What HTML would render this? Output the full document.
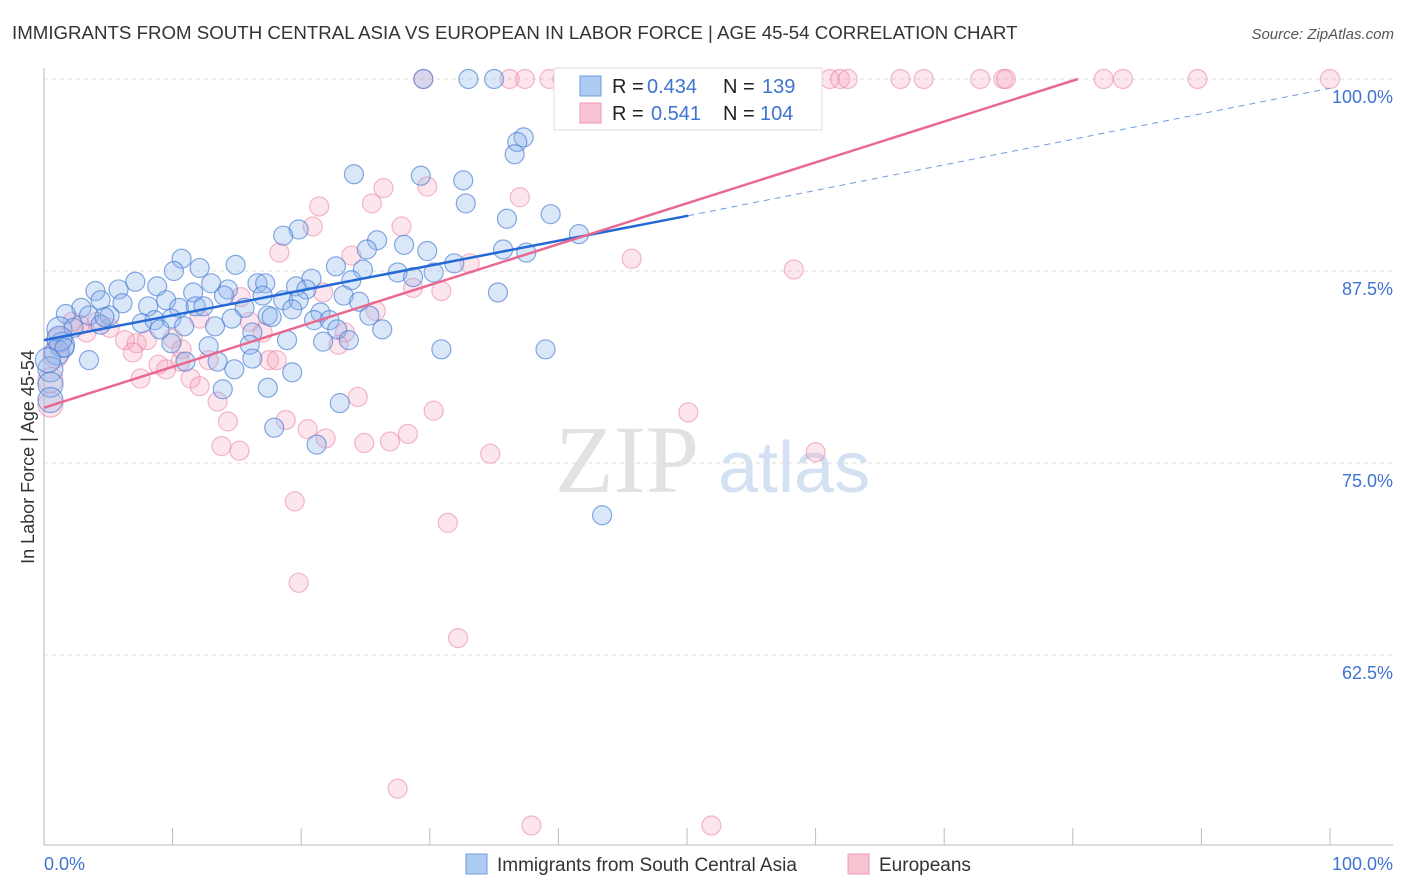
<!DOCTYPE html>
<html><head><meta charset="utf-8"><style>
body{margin:0;background:#fff;font-family:"Liberation Sans",sans-serif;}
svg{display:block}
</style></head><body>
<svg id="chart" width="1406" height="892" xmlns="http://www.w3.org/2000/svg">
<text x="12" y="39" font-size="18.7" fill="#333">IMMIGRANTS FROM SOUTH CENTRAL ASIA VS EUROPEAN IN LABOR FORCE | AGE 45-54 CORRELATION CHART</text>
<text x="1394" y="39" font-size="15" fill="#555" font-style="italic" text-anchor="end">Source: ZipAtlas.com</text>
<text x="34" y="457" font-size="18" fill="#333" text-anchor="middle" transform="rotate(-90 34 457)">In Labor Force | Age 45-54</text>
<text x="555" y="492" font-size="96" fill="#e2e2e2" font-family="Liberation Serif, serif">ZIP</text>
<text x="718" y="492" font-size="72" fill="#d3e1f3">atlas</text>
<g id="grid"></g><g id="axes"></g><g id="pts"></g><g id="lines"></g>
<g>
<rect x="554" y="68" width="268" height="62" fill="#fff" stroke="#ddd"/>
<rect x="580" y="76" width="21" height="20" fill="#aecbf2" stroke="#6f9be0"/>
<rect x="580" y="103" width="21" height="20" fill="#f8c4d3" stroke="#ee9ab2"/>
<text x="612" y="93" font-size="20" fill="#222">R = <tspan x="647" fill="#3f73d2">0.434</tspan><tspan x="723">N = </tspan><tspan x="762" fill="#3f73d2">139</tspan></text>
<text x="612" y="120" font-size="20" fill="#222">R = <tspan x="651" fill="#3f73d2">0.541</tspan><tspan x="723">N = </tspan><tspan x="760" fill="#3f73d2">104</tspan></text>
</g>
<g>
<rect x="466" y="854" width="21" height="20" fill="#aecbf2" stroke="#6f9be0"/>
<text x="497" y="871" font-size="19" fill="#333">Immigrants from South Central Asia</text>
<rect x="848" y="854" width="21" height="20" fill="#f8c4d3" stroke="#ee9ab2"/>
<text x="879" y="871" font-size="19" fill="#333">Europeans</text>
</g>
</svg>
<script>
const yTicks=[100,87.5,75,62.5];
const yTickLabels=["100.0%","87.5%","75.0%","62.5%"];
const xTicks=[0,10,20,30,40,50,60,70,80,90,100];
const blueX=[29.5,33.0,35.0,37.3,36.8,36.6,24.1,29.3,32.6,32.8,39.4,36.0,41.6,19.8,18.6,25.9,25.1,28.0,29.8,35.7,37.5,10.7,14.9,10.1,12.1,22.7,24.8,27.5,28.7,30.3,31.9,20.8,23.9,7.1,35.3,16.6,17.2,13.0,14.3,19.6,20.4,4.0,5.8,8.8,11.6,14.0,17.0,18.6,19.8,23.3,24.5,2.9,4.4,6.1,8.1,9.5,10.5,11.8,12.4,15.6,17.4,19.3,21.5,25.3,1.7,3.5,5.1,7.6,8.6,9.9,13.3,14.6,17.7,21.0,22.2,10.9,1.2,2.3,4.4,22.8,26.3,16.2,18.9,21.7,23.7,1.4,1.0,9.9,12.8,16.0,30.9,39.0,3.5,11.0,13.5,16.2,14.8,19.3,0.5,17.4,13.9,0.5,0.5,23.0,17.9,21.2,43.4,1.2,1.6,0.3,4.7,9.0];
const blueY=[100,100,100,96.2,95.9,95.1,93.8,93.7,93.4,91.9,91.2,90.9,89.9,90.2,89.8,89.5,88.9,89.2,88.8,88.9,88.7,88.3,87.9,87.5,87.7,87.8,87.6,87.4,87.1,87.4,88.0,87.0,86.9,86.8,86.1,86.7,86.7,86.7,86.3,86.5,86.3,86.2,86.3,86.5,86.1,85.9,85.9,85.6,85.6,85.9,85.5,85.1,85.6,85.4,85.2,85.6,85.1,85.2,85.2,85.1,84.6,85.0,84.8,84.6,84.7,84.6,84.6,84.1,84.3,84.4,83.9,84.4,84.5,84.3,84.3,83.9,83.7,83.8,84.0,83.7,83.7,83.5,83.0,82.9,83.0,82.7,82.2,82.8,82.6,82.7,82.4,82.4,81.7,81.6,81.6,81.8,81.1,80.9,81.1,79.9,79.8,80.1,79.1,78.9,77.3,76.2,71.6,83.1,82.5,81.7,84.5,83.7];
const pinkX=[29.5,36.2,37.4,39.3,40.3,41.3,43.1,44.2,46.3,47.9,49.5,51.0,61.1,61.9,62.5,66.6,68.4,72.8,74.6,74.8,82.4,83.9,89.7,100,29.8,26.4,37.0,25.5,21.4,20.9,27.8,18.3,23.9,33.1,45.7,58.3,28.7,30.9,15.3,21.7,25.8,16.0,17.0,23.4,22.9,2.2,4.1,3.3,6.3,7.2,8.0,10.0,10.7,6.9,8.9,9.5,10.6,12.8,17.5,18.1,7.5,11.4,12.1,13.5,24.4,14.3,18.8,30.3,50.1,20.5,21.9,28.3,13.8,15.2,24.9,26.9,34.7,60.0,19.5,31.4,19.8,32.2,27.5,37.9,51.9,0.5,0.5,0.9,1.2,2.8,5.1,12.1];
const pinkY=[100,100,100,100,100,100,100,100,100,100,100,100,100,100,100,100,100,100,100,100,100,100,100,100,93.0,92.9,92.3,91.9,91.7,90.4,90.4,88.7,88.5,88.0,88.3,87.6,86.4,86.2,85.8,86.1,84.9,84.2,83.5,83.5,82.7,84.2,84.2,83.5,83.0,82.8,83.0,83.1,82.4,82.2,81.4,81.1,81.6,81.7,81.7,81.7,80.5,80.5,80.0,79.0,79.3,77.7,77.8,78.4,78.3,77.2,76.6,76.9,76.1,75.8,76.3,76.4,75.6,75.7,72.5,71.1,67.2,63.6,53.8,51.4,51.4,78.8,80.4,82.0,83.0,84.0,83.8,84.4];
const blueTrend=[83.0,91.1,99.4]; // at x=0, 50.1, 100
const pinkTrend=[78.6,100]; // at x=0, 80.4
const NS="http://www.w3.org/2000/svg";
const X0=44,X1=1330,Y100=79,PXPER=15.36;
function sx(v){return X0+(X1-X0)*v/100;}
function sy(v){return Y100+(100-v)*PXPER;}
function mk(tag,attrs,parent){const e=document.createElementNS(NS,tag);for(const k in attrs)e.setAttribute(k,attrs[k]);parent.appendChild(e);return e;}
const grid=document.getElementById('grid'),axes=document.getElementById('axes'),pts=document.getElementById('pts'),lines=document.getElementById('lines');
yTicks.forEach((t,i)=>{
 const l=mk('line',{x1:44,x2:1393,y1:sy(t),y2:sy(t),stroke:'#ddd','stroke-dasharray':'4,4'},grid);
 
 
 const tx=mk('text',{x:1393,y:sy(t)+24,'font-size':18,fill:'#3f73d2','text-anchor':'end'},grid);
 tx.textContent=yTickLabels[i];
 
 
});
let a=mk('line',{x1:44,x2:44,y1:68,y2:845,stroke:'#bbb'},axes);


a=mk('line',{x1:44,x2:1393,y1:845,y2:845,stroke:'#bbb'},axes);


xTicks.forEach(t=>{
 const l=mk('line',{x1:sx(t),x2:sx(t),y1:828,y2:845,stroke:'#bbb'},axes);
 
 
});
let t1=mk('text',{x:44,y:870,'font-size':18,fill:'#3f73d2'},axes);t1.textContent='0.0%';


let t2=mk('text',{x:1393,y:870,'font-size':18,fill:'#3f73d2','text-anchor':'end'},axes);t2.textContent='100.0%';


function big(x,y){return x<1.5 ? 12.5 : 9.5;}
pinkX.forEach((x,i)=>{
 const c=mk('circle',{cx:sx(x),cy:sy(pinkY[i]),r:big(x),fill:'rgba(244,160,186,0.28)',stroke:'rgba(234,130,162,0.55)','stroke-width':1.2},pts);
 
 
});
blueX.forEach((x,i)=>{
 const c=mk('circle',{cx:sx(x),cy:sy(blueY[i]),r:big(x),fill:'rgba(140,180,235,0.32)',stroke:'rgba(70,125,210,0.65)','stroke-width':1.2},pts);
 
 
});
let ln=mk('line',{x1:sx(0),y1:sy(blueTrend[0]),x2:sx(50.1),y2:sy(blueTrend[1]),stroke:'#2469d6','stroke-width':2.5},lines);


ln=mk('line',{x1:sx(50.1),y1:sy(blueTrend[1]),x2:sx(100),y2:sy(blueTrend[2]),stroke:'#6f9be0','stroke-width':1,'stroke-dasharray':'6,5'},lines);


ln=mk('line',{x1:sx(0),y1:sy(pinkTrend[0]),x2:sx(80.4),y2:sy(pinkTrend[1]),stroke:'#e8688f','stroke-width':2.5},lines);


</script>
</body></html>
